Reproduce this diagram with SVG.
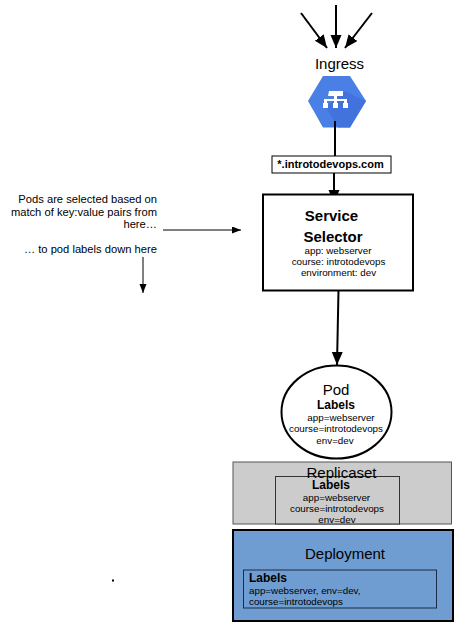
<svg xmlns="http://www.w3.org/2000/svg" width="465" height="630" viewBox="0 0 465 630">
<style>
text{font-family:"Liberation Sans",Arial,sans-serif;fill:#000;text-anchor:middle}
.s{font-size:9.8px}
.n{font-size:11.2px}
.h{font-size:15px}
.l{font-size:12px;font-weight:700}
.b{font-weight:700}
.e{text-anchor:end}
.st{text-anchor:start}
.c{fill:none;stroke:#000}
</style>
<defs>
<marker id="a" markerUnits="userSpaceOnUse" markerWidth="14" markerHeight="14" refX="13" refY="5.500" orient="auto"><path d="M0 0L13 5.500L0 11z"/></marker>
<marker id="m" markerUnits="userSpaceOnUse" markerWidth="10" markerHeight="8" refX="9" refY="3.500" orient="auto"><path d="M0 0L9 3.500L0 7z"/></marker>
</defs>
<rect width="465" height="630" fill="#fff"/>
<g id="ingress">
<text x="339.500" y="69" class="h">Ingress</text>
<path d="M323 76H350L366 101L350 127.500H323L308 101z" fill="#4a7fe6"/>
<path d="M326 107L344 91L366 101L350 127.500H338z" fill="#4272dc"/>
<path fill="#fff" d="M329 91h14v5h-6v3h10v4h1v5h-5v-5h1v-2h-7v2h1v5h-5v-5h1v-2h-7v2h1v5h-5v-5h1v-4h10v-3h-6z"/>
</g>
<g id="connectors">
<path class="c" stroke-width="2" marker-end="url(#a)" d="M301 13L327 48"/>
<path class="c" stroke-width="2" marker-end="url(#a)" d="M336 5V48"/>
<path class="c" stroke-width="2" marker-end="url(#a)" d="M372 13L345 48"/>
<path class="c" stroke-width="2" d="M335 121V156"/>
<path class="c" stroke-width="2" marker-end="url(#a)" d="M334 172V203"/>
<path class="c" stroke-width="2" marker-end="url(#a)" d="M338.500 290L337 365"/>
<path class="c" marker-end="url(#m)" d="M163 230H241"/>
<path class="c" marker-end="url(#m)" d="M143 257V293"/>
</g>
<g id="host">
<rect x="272" y="156" width="119" height="17" fill="#fff" stroke="#000"/>
<text x="330.500" y="168" font-size="11" class="b">*.introtodevops.com</text>
</g>
<g id="note">
<text class="n e" x="157" y="203">Pods are selected based on</text>
<text class="n e" x="157" y="215.500">match of key:value pairs from</text>
<text class="n e" x="157" y="228">here…</text>
<text class="n e" x="157" y="253">… to pod labels down here</text>
</g>
<g id="service">
<rect x="263" y="194.500" width="150" height="96" fill="#fff" stroke="#000" stroke-width="2"/>
<text x="331.500" y="221" class="h b">Service</text>
<text x="333" y="242" class="h b">Selector</text>
<text x="338" y="254" class="s">app: webserver</text>
<text x="338.500" y="265" class="s">course: introtodevops</text>
<text x="338.500" y="276" class="s">environment: dev</text>
</g>
<g id="pod">
<ellipse cx="336.500" cy="412" rx="55" ry="46.500" fill="#fff" stroke="#000" stroke-width="2"/>
<text x="336" y="395" class="h">Pod</text>
<text x="336" y="409" class="l">Labels</text>
<text x="341" y="421" class="s">app=webserver</text>
<text x="336" y="432" class="s">course=introtodevops</text>
<text x="335" y="444" class="s">env=dev</text>
</g>
<g id="replicaset">
<rect x="233" y="462" width="218.500" height="62" fill="#ccc" stroke="#555"/>
<rect x="275.500" y="476.500" width="124" height="47.500" fill="#ccc" stroke="#333"/>
<text x="341.500" y="478" class="h" fill="#222">Replicaset</text>
<text x="331" y="489" class="l">Labels</text>
<text x="336.500" y="501" class="s">app=webserver</text>
<text x="337" y="512" class="s">course=introtodevops</text>
<text x="337" y="523" class="s">env=dev</text>
</g>
<g id="deployment">
<rect x="233" y="530" width="220" height="91" fill="#6f9dd2" stroke="#000" stroke-width="2"/>
<text x="345" y="559" class="h">Deployment</text>
<rect x="243.500" y="570" width="193" height="38" fill="#6f9dd2" stroke="#1a2c44"/>
<text x="249" y="582" class="l st">Labels</text>
<text x="249" y="594" class="s st">app=webserver, env=dev,</text>
<text x="249" y="605" class="s st">course=introtodevops</text>
</g>
<rect x="112" y="579.500" width="2" height="2" fill="#000"/>
</svg>
